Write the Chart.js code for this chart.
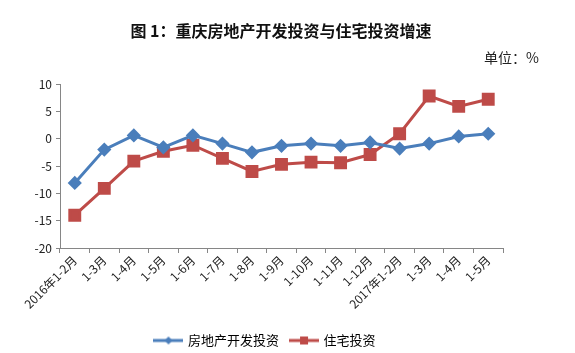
<!DOCTYPE html>
<html>
<head>
<meta charset="utf-8">
<script src="https://cdn.jsdelivr.net/npm/chart.js@4/dist/chart.umd.min.js"></script>
<style>
  body{ margin:0; background:#fff; }
  #wrap{ position:relative; width:575px; height:353px; }
  #title{ position:absolute; left:0; width:562px; top:18px; text-align:center;
    font:bold 16px "Noto Sans CJK SC", sans-serif; color:#111; }
  #unit{ position:absolute; left:484px; top:47px; font:14px "Noto Sans CJK SC", sans-serif; color:#222; }
  canvas{ position:absolute; left:0; top:0; }
</style>
</head>
<body>
<div id="wrap">
  <canvas id="c" width="575" height="353"></canvas>
  <div id="title">图 1：重庆房地产开发投资与住宅投资增速</div>
  <div id="unit">单位：%</div>
</div>
<script>
const categories = ["2016年1-2月","1-3月","1-4月","1-5月","1-6月","1-7月","1-8月","1-9月","1-10月","1-11月","1-12月","2017年1-2月","1-3月","1-4月","1-5月"];
const devInvest = [-8.1,-2.0,0.6,-1.6,0.6,-0.9,-2.5,-1.3,-0.9,-1.3,-0.7,-1.8,-0.9,0.4,0.9];
const houseInvest = [-14.0,-9.1,-4.1,-2.3,-1.2,-3.6,-6.0,-4.7,-4.3,-4.4,-2.9,0.9,7.8,5.9,7.2];
const yTicks = [-20,-15,-10,-5,0,5,10];

const BLUE = "#4a7ebb", RED = "#be4b48";
const FONT = "'Noto Sans CJK SC', sans-serif";

// legend swatch: short line with marker
function swatch(color, shape){
  const c = document.createElement("canvas");
  c.width = 30; c.height = 12;
  const g = c.getContext("2d");
  g.strokeStyle = color; g.lineWidth = 3;
  g.beginPath(); g.moveTo(0,6); g.lineTo(30,6); g.stroke();
  g.fillStyle = color;
  g.beginPath();
  if(shape === "diamond"){ g.moveTo(15,2); g.lineTo(19,6); g.lineTo(15,10); g.lineTo(11,6); }
  else { g.rect(11,2,8,8); }
  g.fill();
  return c;
}
const swBlue = swatch(BLUE, "diamond"), swRed = swatch(RED, "rect");

new Chart(document.getElementById("c"), {
  type:"line",
  data:{
    labels:categories,
    datasets:[
      { label:"房地产开发投资", data:devInvest, borderColor:BLUE, backgroundColor:BLUE,
        borderWidth:3, pointStyle:"rectRot", pointRadius:5, tension:0 },
      { label:"住宅投资", data:houseInvest, borderColor:RED, backgroundColor:RED,
        borderWidth:3, pointStyle:"rect", pointRadius:7, tension:0 }
    ]
  },
  options:{
    responsive:false,
    animation:false,
    layout:{ padding:{ top:84, right:72, left:28, bottom:-4 } },
    plugins:{
      tooltip:{ enabled:false },
      legend:{
        position:"bottom",
        labels:{
          usePointStyle:true,
          pointStyleWidth:26,
          font:{ family:FONT, size:13 },
          color:"#222",
          padding:12,
          generateLabels(chart){
            const sw = [swBlue, swRed];
            return chart.data.datasets.map((d,i) => ({
              text:d.label, pointStyle:sw[i], fillStyle:d.borderColor,
              strokeStyle:d.borderColor, lineWidth:0, datasetIndex:i, hidden:false
            }));
          }
        }
      }
    },
    scales:{
      x:{
        offset:true,
        grid:{ offset:true, drawOnChartArea:false, color:"#868686", tickLength:5 },
        border:{ color:"#868686" },
        ticks:{ minRotation:45, maxRotation:45, autoSkip:false, color:"#222",
          font:{ family:FONT, size:12 }, padding:0 },
        afterFit(s){ s.height = 74; }
      },
      y:{
        min:-20, max:10,
        afterBuildTicks(s){ s.ticks = yTicks.map(v => ({ value:v })); },
        grid:{ drawOnChartArea:false, color:"#868686", tickLength:4 },
        border:{ color:"#868686" },
        ticks:{ color:"#222", font:{ family:FONT, size:12 }, padding:4 },
        afterFit(s){ s.width = 32; }
      }
    }
  }
});
</script>
</body>
</html>
